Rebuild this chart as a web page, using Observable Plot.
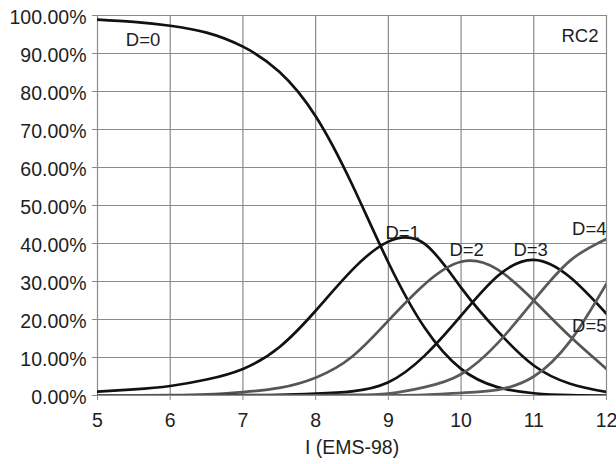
<!DOCTYPE html>
<html>
<head>
<meta charset="utf-8">
<script src="https://cdn.jsdelivr.net/npm/d3@7"></script>
<script src="https://cdn.jsdelivr.net/npm/@observablehq/plot@0.6"></script>
<style>
  html, body { margin: 0; padding: 0; background: #fff; }
  #chart { width: 616px; height: 464px; }
</style>
</head>
<body>
<div id="chart"></div>
<script>
// Intensity values (x)
const intensities = [5, 5.5, 6, 6.5, 7, 7.5, 8, 8.5, 9, 9.5, 10, 10.5, 11, 11.5, 12];

// Probability (%) of each damage grade
const d0 = [98.9, 98.3, 97.3, 95.5, 91.8, 85.2, 73.5, 55.6, 35.0, 17.8, 7.0, 2.2, 0.6, 0.1, 0.0];
const d1 = [1.0, 1.6, 2.5, 4.2, 7.0, 12.7, 22.3, 33.0, 40.5, 39.9, 28.4, 17.0, 7.9, 3.1, 0.9];
const d2 = [0.0, 0.05, 0.1, 0.3, 0.9, 2.0, 4.7, 10.2, 19.7, 29.3, 35.2, 33.2, 25.0, 15.5, 7.0];
const d3 = [0.0, 0.0, 0.0, 0.05, 0.1, 0.2, 0.5, 1.1, 3.5, 10.5, 21.0, 31.4, 35.7, 31.1, 21.5];
const d4 = [0.0, 0.0, 0.0, 0.0, 0.0, 0.0, 0.05, 0.15, 0.5, 2.2, 5.6, 13.7, 25.0, 35.5, 41.2];
const d5 = [0.0, 0.0, 0.0, 0.0, 0.0, 0.0, 0.0, 0.0, 0.05, 0.2, 0.7, 1.5, 5.0, 14.3, 29.4];

const seriesNames = ["D=0", "D=1", "D=2", "D=3", "D=4", "D=5"];
const seriesValues = [d0, d1, d2, d3, d4, d5];
const seriesColors = ["#111111", "#111111", "#555555", "#111111", "#5a5a5a", "#5a5a5a"];

// Tick values
const xTicks = [5, 6, 7, 8, 9, 10, 11, 12];
const yTicks = [0, 10, 20, 30, 40, 50, 60, 70, 80, 90, 100];

// In-chart annotations (data coordinates)
const labelTexts = ["D=0", "D=1", "D=2", "D=3", "D=4", "D=5", "RC2"];
const labelI = [5.39, 8.96, 9.84, 10.72, 12, 12, 11.89];
const labelP = [92.1, 41.3, 36.8, 36.8, 42.3, 16.8, 92.9];
const labelAlign = ["start", "start", "start", "start", "end", "end", "end"];

const xTitle = "I (EMS-98)";

const rows = seriesValues.flatMap((vals, k) =>
  vals.map((v, i) => ({I: intensities[i], P: v, D: seriesNames[k]}))
);
const labels = labelTexts.map((t, i) => ({t, I: labelI[i], P: labelP[i], a: labelAlign[i]}));

const font = "'Liberation Sans', Arial, Helvetica, sans-serif";
const gridColor = "#8a8a8a";
const textColor = "#1e1e1e";

const chart = Plot.plot({
  width: 616,
  height: 464,
  marginLeft: 97,
  marginRight: 10,
  marginTop: 15,
  marginBottom: 69,
  style: {fontFamily: font, fontSize: "19.5px", color: textColor, background: "#fff"},
  x: {domain: [5, 12], label: null},
  y: {domain: [0, 100], label: null},
  color: {domain: seriesNames, range: seriesColors},
  marks: [
    Plot.gridX(xTicks, {stroke: gridColor, strokeOpacity: 1, strokeWidth: 1.2}),
    Plot.gridY(yTicks, {stroke: gridColor, strokeOpacity: 1, strokeWidth: 1.2}),
    // tick marks only
    Plot.axisX(xTicks, {tickSize: 5, stroke: gridColor, label: null, tickFormat: () => ""}),
    Plot.axisY(yTicks, {tickSize: 5, stroke: gridColor, label: null, tickFormat: () => ""}),
    // tick labels
    Plot.axisX(xTicks, {tickSize: 0, tickPadding: 18, fill: textColor, label: null, tickFormat: d => String(d), fontSize: 19.5}),
    Plot.axisY(yTicks, {tickSize: 0, tickPadding: 11, dy: 2, fill: textColor, label: null, tickFormat: d => d.toFixed(2) + "%", fontSize: 19.5}),
    Plot.line(rows, {x: "I", y: "P", z: "D", stroke: "D", strokeWidth: 2.7, curve: "natural", clip: true}),
    Plot.text(labels.filter(d => d.a === "start"), {x: "I", y: "P", text: "t", textAnchor: "start", lineAnchor: "bottom", fontSize: 18.5, fill: textColor}),
    Plot.text(labels.filter(d => d.a === "end"), {x: "I", y: "P", text: "t", textAnchor: "end", lineAnchor: "bottom", fontSize: 18.5, fill: textColor}),
    Plot.text([xTitle], {frameAnchor: "bottom", dy: 58, lineAnchor: "bottom", fontSize: 19.5, fill: textColor})
  ]
});
document.getElementById("chart").appendChild(chart);
</script>
</body>
</html>
